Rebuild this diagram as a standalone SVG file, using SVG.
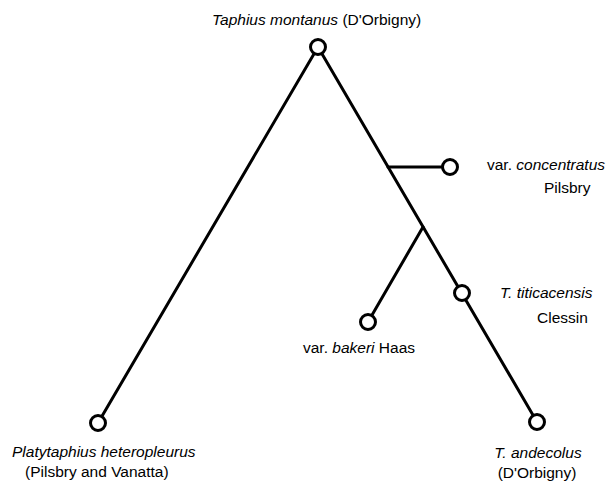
<svg xmlns="http://www.w3.org/2000/svg" width="606" height="485" viewBox="0 0 606 485">
<style>
.edge{stroke:#000;stroke-width:3;fill:none;stroke-linecap:round}
.node{fill:#fff;stroke:#000;stroke-width:3}
text{font-family:"Liberation Sans","DejaVu Sans",sans-serif;font-size:15.5px;fill:#000}
.it{font-style:italic}
.mid{text-anchor:middle}
</style>
<rect width="606" height="485" fill="#fff"/>
<g id="connectors">
<line class="edge" x1="318" y1="47" x2="98" y2="423"/>
<line class="edge" x1="318" y1="47" x2="537" y2="422"/>
<line class="edge" x1="388" y1="167" x2="450" y2="167"/>
<line class="edge" x1="423" y1="227" x2="368" y2="322"/>
</g>
<g id="montanus">
<circle class="node" cx="318" cy="47" r="7.5"/>
<text x="212" y="25"><tspan class="it">Taphius montanus</tspan> (D'Orbigny)</text>
</g>
<g id="concentratus">
<circle class="node" cx="450" cy="167" r="7.5"/>
<text x="487" y="170">var. <tspan class="it">concentratus</tspan></text>
<text x="544" y="193">Pilsbry</text>
</g>
<g id="titicacensis">
<circle class="node" cx="462" cy="293" r="7.5"/>
<text x="500" y="298" class="it">T. titicacensis</text>
<text x="537" y="323">Clessin</text>
</g>
<g id="bakeri">
<circle class="node" cx="368" cy="322" r="7.5"/>
<text x="303" y="353">var. <tspan class="it">bakeri</tspan> Haas</text>
</g>
<g id="heteropleurus">
<circle class="node" cx="98" cy="423" r="7.5"/>
<text x="12" y="457" class="it">Platytaphius heteropleurus</text>
<text x="25" y="477">(Pilsbry and Vanatta)</text>
</g>
<g id="andecolus">
<circle class="node" cx="537" cy="422" r="7.5"/>
<text x="538" y="458" class="it mid">T. andecolus</text>
<text x="537" y="478" class="mid">(D'Orbigny)</text>
</g>
</svg>
